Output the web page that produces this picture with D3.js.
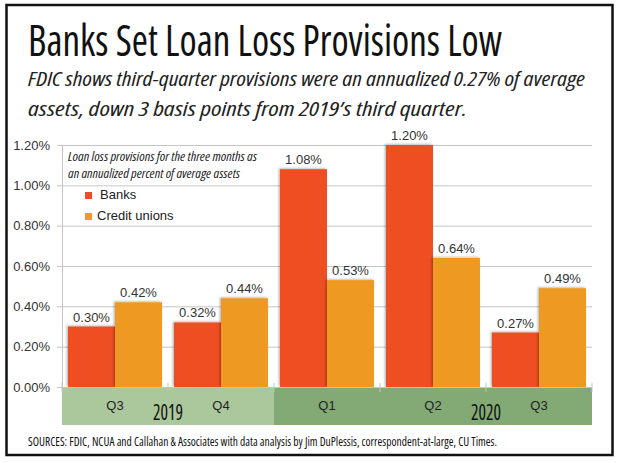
<!DOCTYPE html>
<html><head><meta charset="utf-8">
<script src="https://cdn.jsdelivr.net/npm/d3@7"></script>
<style>
html,body{margin:0;padding:0;background:#fff;}
svg{display:block;}
.cond{font-family:"Open Sans","DejaVu Sans Condensed",sans-serif;font-stretch:condensed;}
.ar{font-family:"Liberation Sans",Arial,sans-serif;}
</style></head>
<body>
<script>
const categories = ["2019 Q3","2019 Q4","2020 Q1","2020 Q2","2020 Q3"];
const quarterLabels = ["Q3","Q4","Q1","Q2","Q3"];
const years = ["2019","2020"];
const yearOfCategory = ["2019","2019","2020","2020","2020"];
const banks = [0.30,0.32,1.08,1.20,0.27];
const creditUnions = [0.42,0.44,0.53,0.64,0.49];
const seriesNames = ["Banks","Credit unions"];
const yTicks = [0,0.2,0.4,0.6,0.8,1.0,1.2];

const W=620,H=463;
const colors={"Banks":"#EF4D22","Credit unions":"#EE9A24"};
const yearColors={"2019":"#ABC89D","2020":"#83AA75"};

const svg=d3.select("body").append("svg").attr("width",W).attr("height",H);
const defs=svg.append("defs");
const f=defs.append("filter").attr("id","sh").attr("x","-10%").attr("y","-10%").attr("width","120%").attr("height","120%");
f.append("feDropShadow").attr("dx",-1.2).attr("dy",-0.8).attr("stdDeviation",0.8).attr("flood-color","#000").attr("flood-opacity",0.3);

svg.append("rect").attr("x",0).attr("y",0).attr("width",W).attr("height",H).attr("fill","#fff");
svg.append("rect").attr("x",6.5).attr("y",5).attr("width",606).attr("height",450).attr("fill","none").attr("stroke","#111").attr("stroke-width",2.5);

// Title & subtitle
svg.append("text").attr("class","cond").attr("x",28).attr("y",56).attr("font-size",43)
  .attr("fill","#111").attr("textLength",474).attr("lengthAdjust","spacingAndGlyphs")
  .text("Banks Set Loan Loss Provisions Low");
svg.append("text").attr("class","cond").attr("x",28).attr("y",86).attr("font-size",19.5).attr("font-style","italic")
  .attr("fill","#222").attr("textLength",557).attr("lengthAdjust","spacingAndGlyphs")
  .text("FDIC shows third-quarter provisions were an annualized 0.27% of average");
svg.append("text").attr("class","cond").attr("x",28).attr("y",116).attr("font-size",19.5).attr("font-style","italic")
  .attr("fill","#222").attr("textLength",439).attr("lengthAdjust","spacingAndGlyphs")
  .text("assets, down 3 basis points from 2019\u2019s third quarter.");

// scales
const x=d3.scaleBand().domain(categories).range([62,592]).paddingInner(12/106).paddingOuter(6/106);
const x1=d3.scaleBand().domain(seriesNames).range([0,x.bandwidth()]);
const y=d3.scaleLinear().domain([0,1.2]).range([387,145]);
const step=x.step(), gap=step-x.bandwidth();

// grid
const yAxis=d3.axisLeft(y).tickValues(yTicks).tickSize(-(592-57)).tickSizeOuter(0).tickFormat(d=>d.toFixed(2)+"%");
const ga=svg.append("g").attr("transform","translate(57,0)").call(yAxis);
ga.select(".domain").remove();
ga.selectAll(".tick line").attr("stroke","#C4C4C4").attr("stroke-width",1);
ga.selectAll(".tick text").attr("class","ar").attr("font-size",13).attr("fill","#333").attr("x",-7).attr("dx",0);
svg.append("line").attr("x1",62.5).attr("x2",62.5).attr("y1",145).attr("y2",387).attr("stroke","#C4C4C4");

// year bands
years.forEach(yr=>{
  const idx=categories.filter((c,i)=>yearOfCategory[i]===yr);
  const x0=x(idx[0])-gap/2, xe=x(idx[idx.length-1])+x.bandwidth()+gap/2;
  svg.append("rect").attr("x",x0).attr("y",388).attr("width",xe-x0).attr("height",37).attr("fill",yearColors[yr]);
});
// group boundary ticks
categories.forEach((c,i)=>{
  const bx=x(c)-gap/2;
  svg.append("line").attr("x1",bx).attr("x2",bx).attr("y1",383).attr("y2",392).attr("stroke","#C4C4C4");
});
svg.append("line").attr("x1",592).attr("x2",592).attr("y1",383).attr("y2",392).attr("stroke","#C4C4C4");

// bars
const data=categories.map((c,i)=>({c,vals:[{k:"Banks",v:banks[i]},{k:"Credit unions",v:creditUnions[i]}]}));
const g=svg.append("g");
data.forEach(d=>{
  const gg=g.append("g").attr("transform",`translate(${x(d.c)},0)`);
  gg.selectAll("rect").data(d.vals).join("rect")
    .attr("x",e=>x1(e.k)).attr("y",e=>y(e.v)).attr("width",x1.bandwidth()).attr("height",e=>y(0)-y(e.v))
    .attr("fill",e=>colors[e.k]).attr("filter","url(#sh)");
  gg.selectAll("text").data(d.vals).join("text").attr("class","ar")
    .attr("x",e=>x1(e.k)+x1.bandwidth()/2).attr("y",e=>y(e.v)-5).attr("text-anchor","middle")
    .attr("font-size",13).attr("fill","#333").text(e=>e.v.toFixed(2)+"%");
});
svg.append("line").attr("x1",57).attr("x2",592).attr("y1",387.5).attr("y2",387.5).attr("stroke","#C4C4C4");

// quarter labels
svg.selectAll(".ql").data(categories).join("text").attr("class","ar")
  .attr("x",(c)=>x(c)+x.bandwidth()/2).attr("y",410).attr("text-anchor","middle")
  .attr("font-size",13).attr("fill","#222").text((c,i)=>quarterLabels[i]);
// year labels
years.forEach(yr=>{
  const idx=categories.filter((c,i)=>yearOfCategory[i]===yr);
  const xc = idx.length===2 ? x(idx[1])-gap/2 : x(idx[2])-gap/2;
  svg.append("text").attr("class","cond").attr("x",xc).attr("y",420).attr("text-anchor","middle")
    .attr("font-size",22).attr("fill","#111").attr("textLength",30).attr("lengthAdjust","spacingAndGlyphs").text(yr);
});

// legend
const leg=svg.append("g");
leg.append("text").attr("class","cond").attr("x",68).attr("y",161).attr("font-size",13.5).attr("font-style","italic")
  .attr("fill","#222").attr("textLength",189).attr("lengthAdjust","spacingAndGlyphs").text("Loan loss provisions for the three months as");
leg.append("text").attr("class","cond").attr("x",68).attr("y",178).attr("font-size",13.5).attr("font-style","italic")
  .attr("fill","#222").attr("textLength",172).attr("lengthAdjust","spacingAndGlyphs").text("an annualized percent of average assets");
seriesNames.forEach((s,i)=>{
  const yy=[192,213][i];
  leg.append("rect").attr("x",85).attr("y",yy).attr("width",7).attr("height",7).attr("fill",colors[s]);
  leg.append("text").attr("class","ar").attr("x",[100,97][i]).attr("y",yy+7).attr("font-size",13).attr("fill","#222").text(s);
});

// source
svg.append("text").attr("class","cond").attr("x",28).attr("y",446).attr("font-size",13).attr("fill","#111")
  .attr("textLength",469).attr("lengthAdjust","spacingAndGlyphs")
  .text("SOURCES: FDIC, NCUA and Callahan & Associates with data analysis by Jim DuPlessis, correspondent-at-large, CU Times.");
</script>
</body></html>
